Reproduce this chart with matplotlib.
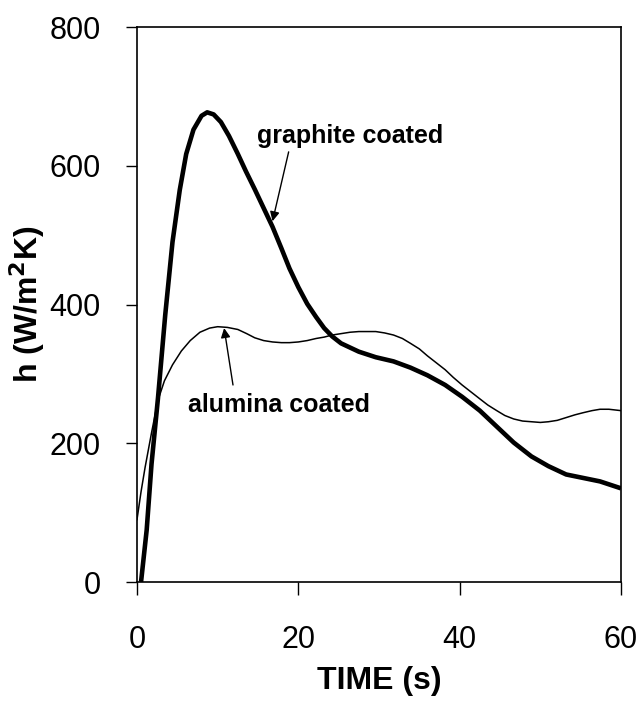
import matplotlib
matplotlib.use("Agg")
import matplotlib.pyplot as plt

plt.rcParams['font.family'] = ['Liberation Sans', 'DejaVu Sans']

# Data
graphite_t = [0.5, 1.2, 1.8, 2.6, 3.5, 4.4, 5.3, 6.1, 7.0, 8.0, 8.7, 9.5, 10.4, 11.4,
              12.5, 13.5, 14.6, 15.7, 16.8, 17.9, 18.9, 20.0, 21.1, 22.2, 23.2, 24.2,
              25.3, 27.5, 29.6, 31.8, 33.9, 36.0, 38.2, 40.3, 42.5, 44.6, 46.7, 48.9,
              51.0, 53.2, 55.3, 57.4, 60.0]
graphite_h = [0, 75, 170, 265, 385, 490, 565, 617, 652, 672, 677, 674, 663, 643,
              617, 592, 566, 539, 512, 481, 452, 425, 401, 382, 366, 354,
              344, 332, 324, 318, 309, 298, 284, 267, 247, 224, 201, 181,
              167, 155, 150, 145, 135]

alumina_t = [0.0, 0.5, 1.0, 1.8, 2.6, 3.4, 4.4, 5.5, 6.6, 7.8, 9.0, 10.0, 11.2, 12.5,
             13.6, 14.6, 15.7, 16.8, 17.9, 18.9, 20.0, 21.1, 22.2, 23.2, 24.2, 25.3,
             26.4, 27.5, 28.5, 29.6, 30.7, 31.8, 32.9, 33.9, 35.0, 36.0, 37.1, 38.2,
             39.2, 40.3, 41.4, 42.5, 43.5, 44.6, 45.6, 46.7, 47.8, 48.9, 50.0, 51.0,
             52.1, 53.2, 54.3, 55.3, 56.4, 57.4, 58.5, 60.0]
alumina_h = [90, 130, 165, 215, 262, 290, 313, 333, 348, 360, 366, 368, 367, 364,
             358, 352, 348, 346, 345, 345, 346, 348, 351, 353, 356, 358,
             360, 361, 361, 361, 359, 356, 351, 344, 336, 326, 316, 306,
             295, 284, 274, 264, 255, 247, 240, 235, 232, 231, 230, 231,
             233, 237, 241, 244, 247, 249, 249, 247]

xticks = [0, 20, 40, 60]
yticks = [0, 200, 400, 600, 800]

fig = plt.figure(figsize=(6.4, 7.02), dpi=100)
ax = fig.add_axes([137/640, (702-582)/702, (621-137)/640, (582-27)/702])

ax.plot(graphite_t, graphite_h, color='black', lw=3.3, solid_capstyle='butt')
ax.plot(alumina_t, alumina_h, color='black', lw=1.1)

ax.set_xlim(0, 60)
ax.set_ylim(0, 800)
ax.set_xticks(xticks)
ax.set_yticks(yticks)
ax.tick_params(axis='x', direction='out', length=9, width=1, pad=22, labelsize=22)
ax.tick_params(axis='y', direction='out', length=8, width=1, pad=18, labelsize=22)
for s in ax.spines.values():
    s.set_linewidth(1.2)

ax.set_xlabel('TIME (s)', fontsize=23, fontweight='bold')
ax.xaxis.set_label_coords(0.5, -0.152)
ax.set_ylabel(r'h (W/m$^\mathbf{2}$K)', fontsize=23, fontweight='bold')
ax.yaxis.set_label_coords(-0.185, 0.5)

arrow = dict(arrowstyle='-|>', lw=1.0, color='black', mutation_scale=14,
             shrinkA=0, shrinkB=0)
ax.text(14.9, 643, 'graphite coated', fontsize=18, fontweight='bold',
        va='center', ha='left')
ax.annotate('', xy=(16.8, 520), xytext=(18.8, 620), arrowprops=arrow)
ax.text(6.3, 255, 'alumina coated', fontsize=18, fontweight='bold',
        va='center', ha='left')
ax.annotate('', xy=(10.8, 366), xytext=(11.9, 284), arrowprops=arrow)

fig.savefig('out.png', dpi=100)
